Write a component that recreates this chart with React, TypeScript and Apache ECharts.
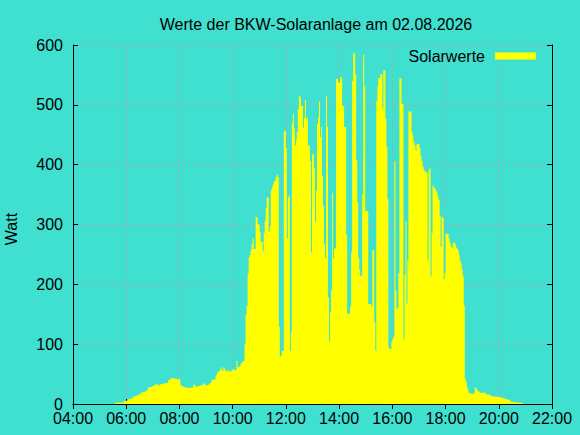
import React, { useEffect, useRef } from "react";
import * as echarts from "echarts";

// Chart texts
const TITLE = "Werte der BKW-Solaranlage am 02.08.2026";
const SERIES_NAME = "Solarwerte";
const Y_NAME = "Watt";

// Axis ranges / ticks
const X_MIN_HOUR = 4;
const X_MAX_HOUR = 22;
const X_TICK_HOURS = 2;
const Y_MIN = 0;
const Y_MAX = 600;
const Y_TICK = 100;

// Sampling of the logger: first reading and interval between readings
const START_TIME = "05:34:30";
const STEP_SECONDS = 136;

// Readings in Watt (consecutive samples)
const dawnWatts = [
  2, 2, 2, 2, 2, 2, 2, 3, 3, 5, 5, 6, 6, 8, 8, 9, 9, 11, 11, 13, 13, 14, 14, 16, 16,
  18, 18, 20, 20, 21, 21, 23, 23, 28, 28, 28, 29, 30, 30, 32, 32, 33, 33, 31, 31,
  33, 33, 34, 34, 35, 35, 35, 36, 40, 40, 43, 43, 43, 43, 42, 42, 41, 41, 42, 42,
  32, 30, 29, 29, 28, 28, 27, 27, 27, 27, 27, 27, 27, 32, 32, 29, 29, 30, 30, 31,
  31, 32, 32, 35, 33, 31, 31, 32, 32, 35, 35, 40, 41, 41, 41, 46, 50, 53, 55, 56,
  62, 58, 55, 61, 58, 55, 56, 56, 54, 56,
];

const middayWatts = [
  54, 56, 58, 58, 56, 57, 72, 62, 61, 63,
  68, 68, 72, 72, 100, 149, 164, 218, 245, 249,
  257, 268, 277, 259, 259, 312, 312, 300, 300, 288,
  271, 271, 255, 286, 306, 328, 345, 345, 288, 297,
  357, 362, 367, 372, 374, 379, 383, 379, 129, 79,
  82, 89, 89, 455, 457, 428, 277, 345, 348, 89,
  121, 469, 485, 461, 432, 442, 455, 492, 515, 512,
  498, 498, 462, 478, 508, 477, 477, 432, 432, 406,
  253, 417, 417, 394, 304, 357, 468, 479, 505, 446,
  463, 381, 331, 267, 244, 515, 463, 178, 104, 154,
  191, 353, 244, 260, 260, 543, 543, 537, 537, 546,
  546, 498, 498, 463, 463, 283, 151, 151, 152, 163,
];

const afternoonWatts = [
  253, 540, 587, 585, 551, 407, 337, 244, 224, 214,
  214, 351, 584, 531, 323, 322, 322, 167, 167, 167,
  163, 257, 257, 137, 89, 506, 531, 545, 545, 551,
  551, 494, 558, 557, 477, 430, 342, 95, 92, 92,
  104, 109, 113, 406, 189, 159, 161, 218, 544, 544,
  502, 502, 108, 216, 306, 168, 240, 489, 489, 489,
  455, 449, 438, 432, 424, 434, 434, 434, 427, 414,
  406, 397, 392, 388, 388, 386, 240, 391, 394, 213,
  286, 365, 362, 360, 357, 353, 347, 341, 315, 263,
  312, 311, 208, 219, 285, 284, 284, 276, 270, 263,
  260, 269, 270, 268, 262, 260, 257, 249, 240, 235,
  225, 213, 164, 42, 37, 28, 23, 18, 17, 18,
];

const duskWatts = [
  17, 17, 18, 27, 26, 23, 21, 21, 19, 19, 19, 19, 19, 19, 16, 16, 16, 15, 15,
  13, 13, 13, 12, 12, 12, 12, 12, 11, 11, 11, 11, 9, 9, 8, 8, 7, 7, 7, 4, 4,
  3, 3, 3, 3, 3, 2, 2, 2, 2, 2, 1, 1,
];

const FONT = "'Liberation Sans', Arial, sans-serif";
const BG = "#40e0d0";
const FILL = "#ffff00";
const GRID_COLOR = "#c89ba0";

function timeToHours(t: string): number {
  const [h, m, s] = t.split(":").map(Number);
  return h + m / 60 + (s || 0) / 3600;
}

function hourLabel(v: number): string {
  const h = Math.round(v);
  return (h < 10 ? "0" : "") + h + ":00";
}

export default function App() {
  const ref = useRef<HTMLDivElement>(null);

  useEffect(() => {
    document.body.style.margin = "0";
    if (!ref.current) return;
    const chart = echarts.init(ref.current, undefined, { renderer: "svg" });

    const watts = [...dawnWatts, ...middayWatts, ...afternoonWatts, ...duskWatts];
    const start = timeToHours(START_TIME);
    const step = STEP_SECONDS / 3600;
    const data = watts.map((w, i) => [start + i * step, w]);

    const axisLine = { show: true, lineStyle: { color: "#000", width: 1 } };
    const axisTick = { show: true, inside: true, length: 5, lineStyle: { color: "#000", width: 1 } };
    const splitLine = { show: true, lineStyle: { color: GRID_COLOR, width: 1, type: [2, 3] as any } };
    const labelStyle = { color: "#000", fontSize: 16, fontFamily: FONT, lineHeight: 13 };

    chart.setOption({
      animation: false,
      backgroundColor: BG,
      title: {
        text: TITLE,
        left: 311,
        top: 11,
        textAlign: "center",
        textStyle: { color: "#000", fontSize: 16, fontWeight: "normal", fontFamily: FONT },
      },
      legend: {
        data: [SERIES_NAME],
        right: 39,
        top: 43,
        align: "right",
        icon: "rect",
        itemWidth: 41,
        itemHeight: 7,
        textStyle: { color: "#000", fontSize: 16, fontFamily: FONT, padding: [0, 5, 6, 0] },
      },
      grid: { left: 73, right: 28, top: 45, bottom: 31, containLabel: false },
      xAxis: [
        {
          type: "value",
          position: "bottom",
          min: X_MIN_HOUR,
          max: X_MAX_HOUR,
          interval: X_TICK_HOURS,
          axisLine,
          axisTick,
          splitLine,
          axisLabel: { ...labelStyle, margin: 8, formatter: (v: number) => hourLabel(v) },
        },
        {
          type: "value",
          position: "top",
          min: X_MIN_HOUR,
          max: X_MAX_HOUR,
          interval: X_TICK_HOURS,
          axisLine,
          axisTick,
          splitLine: { show: false },
          axisLabel: { show: false },
        },
      ],
      yAxis: [
        {
          type: "value",
          position: "left",
          min: Y_MIN,
          max: Y_MAX,
          interval: Y_TICK,
          axisLine,
          axisTick,
          splitLine,
          axisLabel: { ...labelStyle, margin: 10 },
        },
        {
          type: "value",
          position: "right",
          min: Y_MIN,
          max: Y_MAX,
          interval: Y_TICK,
          axisLine,
          axisTick,
          splitLine: { show: false },
          axisLabel: { show: false },
        },
      ],
      graphic: [
        {
          type: "text",
          x: 11,
          y: 229,
          rotation: Math.PI / 2,
          style: {
            text: Y_NAME,
            fill: "#000",
            fontSize: 16,
            fontFamily: FONT,
            textAlign: "center",
            textVerticalAlign: "middle",
          },
        },
      ],
      series: [
        {
          name: SERIES_NAME,
          type: "line",
          xAxisIndex: 0,
          yAxisIndex: 0,
          data,
          step: "end",
          showSymbol: false,
          symbol: "none",
          itemStyle: { color: FILL },
          lineStyle: { width: 0, color: FILL },
          areaStyle: { color: FILL, opacity: 1 },
          z: 1,
        },
      ],
    });

    return () => chart.dispose();
  }, []);

  return <div ref={ref} style={{ width: 580, height: 435 }} />;
}
